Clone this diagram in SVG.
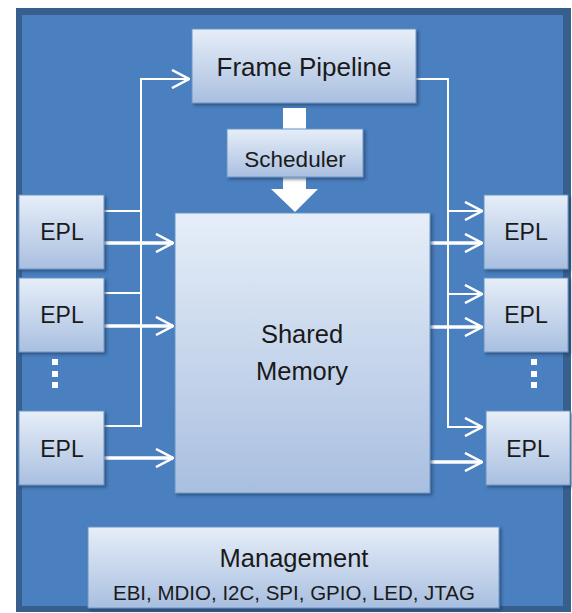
<svg xmlns="http://www.w3.org/2000/svg" width="572" height="613" viewBox="0 0 572 613">
<defs>
<linearGradient id="g" x1="0" y1="0" x2="0" y2="1">
<stop offset="0" stop-color="#e6eef8"/>
<stop offset="1" stop-color="#a9bfe0"/>
</linearGradient>
<filter id="sh" x="-10%" y="-10%" width="130%" height="130%">
<feDropShadow dx="2" dy="2" stdDeviation="1.5" flood-color="#1d3557" flood-opacity="0.6"/>
</filter>
<marker id="ah" viewBox="0 0 20 20" refX="19" refY="10" markerWidth="20" markerHeight="20" markerUnits="userSpaceOnUse" orient="auto">
<path d="M2,1 L19,10 L2,19" fill="none" stroke="#ffffff" stroke-width="2.5"/>
</marker>
</defs>
<style>
.box{fill:url(#g);stroke:#6b94c8;stroke-width:1;filter:url(#sh)}
.t{font-family:"Liberation Sans",Arial,sans-serif;fill:#1a1a1a;text-anchor:middle}
.thin{fill:none;stroke:#ffffff;stroke-width:2}
.thick{fill:none;stroke:#ffffff;stroke-width:3.5}
.dot{fill:#ffffff}
</style>
<rect x="16" y="8" width="555" height="604" fill="#365f8e"/>
<rect x="22" y="15" width="541" height="591" fill="#4a80bf"/>

<g id="connectors">
<polyline class="thin" points="104,211 141,211"/>
<polyline class="thin" points="104,293 141,293"/>
<polyline class="thin" points="104,426 141,426 141,79 189,79" marker-end="url(#ah)"/>
<polyline class="thick" points="104,243 173,243" marker-end="url(#ah)"/>
<polyline class="thick" points="104,326 173,326" marker-end="url(#ah)"/>
<polyline class="thick" points="104,458 173,458" marker-end="url(#ah)"/>
<polyline class="thin" points="416,79 448,79 448,427 482,427" marker-end="url(#ah)"/>
<polyline class="thin" points="448,211 482,211" marker-end="url(#ah)"/>
<polyline class="thin" points="448,294 482,294" marker-end="url(#ah)"/>
<polyline class="thick" points="430,243 482,243" marker-end="url(#ah)"/>
<polyline class="thick" points="430,327 482,327" marker-end="url(#ah)"/>
<polyline class="thick" points="430,462 482,462" marker-end="url(#ah)"/>
<rect x="283" y="108" width="23" height="22" fill="#ffffff"/>
<polygon points="283,176 306,176 306,189 318,189 295,212 271,189 283,189" fill="#ffffff"/>
</g>

<g id="frame-pipeline">
<rect class="box" x="192" y="29" width="224" height="74"/>
<text class="t" x="304" y="76" font-size="26">Frame Pipeline</text>
</g>
<g id="scheduler">
<rect class="box" x="227" y="129" width="136" height="48"/>
<text class="t" x="295" y="167" font-size="22.5">Scheduler</text>
</g>
<g id="shared-memory">
<rect class="box" x="175" y="213" width="255" height="280"/>
<text class="t" x="302" y="343" font-size="25.5">Shared</text>
<text class="t" x="302" y="380" font-size="25.5">Memory</text>
</g>
<g id="epl-l1">
<rect class="box" x="19" y="195" width="85" height="74"/>
<text class="t" x="62" y="240" font-size="23">EPL</text>
</g>
<g id="epl-l2">
<rect class="box" x="19" y="278" width="85" height="74"/>
<text class="t" x="62" y="323" font-size="23">EPL</text>
</g>
<g id="epl-l3">
<rect class="box" x="19" y="411" width="85" height="74"/>
<text class="t" x="62" y="457" font-size="23">EPL</text>
</g>
<g id="dots-left">
<rect class="dot" x="52" y="359" width="6" height="6"/>
<rect class="dot" x="52" y="371" width="6" height="6"/>
<rect class="dot" x="52" y="382" width="6" height="6"/>
</g>
<g id="epl-r1">
<rect class="box" x="484" y="195" width="84" height="74"/>
<text class="t" x="526" y="240" font-size="23">EPL</text>
</g>
<g id="epl-r2">
<rect class="box" x="484" y="278" width="84" height="74"/>
<text class="t" x="526" y="323" font-size="23">EPL</text>
</g>
<g id="epl-r3">
<rect class="box" x="486" y="411" width="84" height="74"/>
<text class="t" x="528" y="457" font-size="23">EPL</text>
</g>
<g id="dots-right">
<rect class="dot" x="531" y="359" width="6" height="6"/>
<rect class="dot" x="531" y="371" width="6" height="6"/>
<rect class="dot" x="531" y="382" width="6" height="6"/>
</g>
<g id="management">
<rect class="box" x="88" y="527" width="411" height="81"/>
<text class="t" x="294" y="567" font-size="25.5">Management</text>
<text class="t" x="294" y="600" font-size="21" textLength="362" lengthAdjust="spacingAndGlyphs">EBI, MDIO, I2C, SPI, GPIO, LED, JTAG</text>
</g>
</svg>
